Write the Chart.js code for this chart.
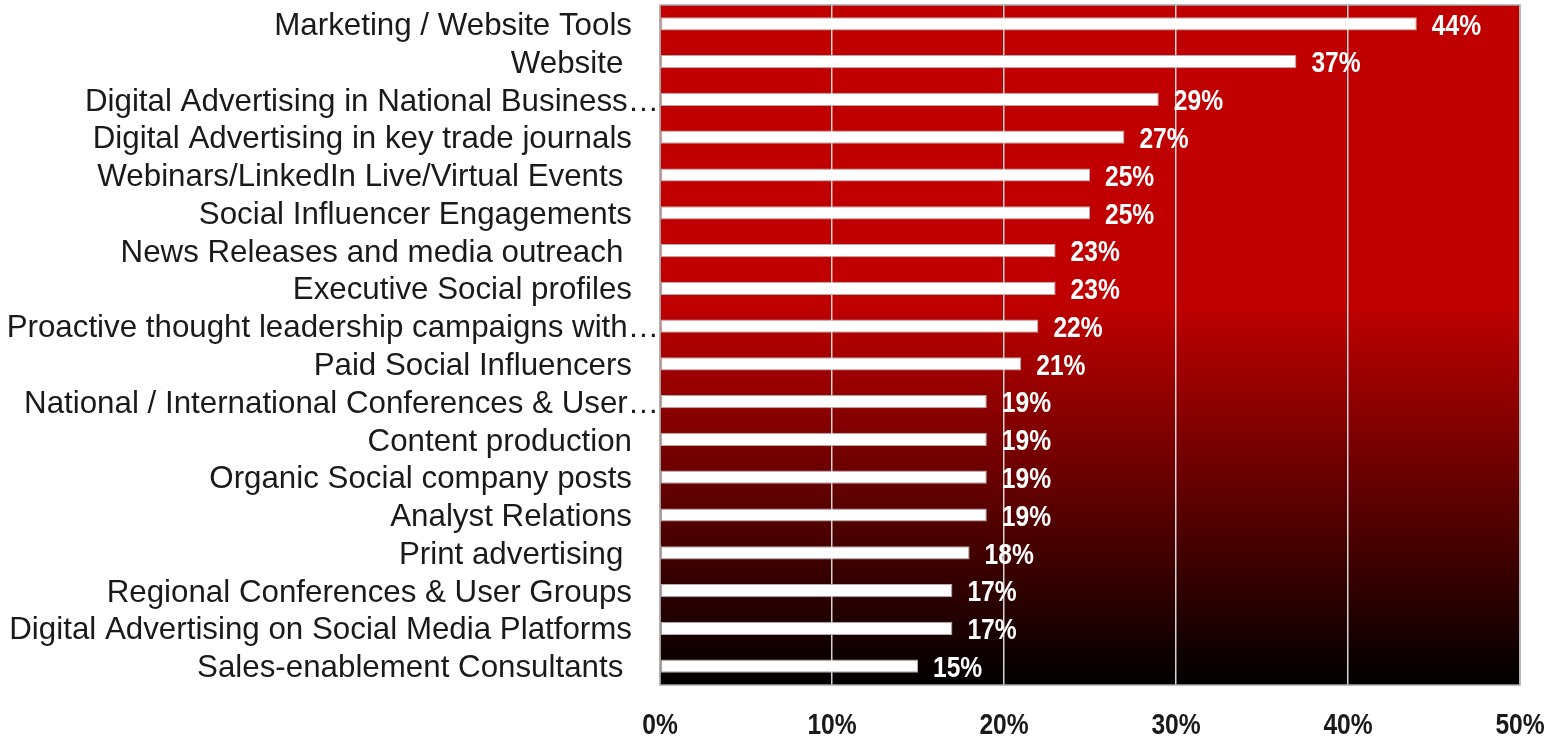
<!DOCTYPE html>
<html>
<head>
<meta charset="utf-8">
<script src="https://cdn.jsdelivr.net/npm/chart.js@4.4.1/dist/chart.umd.min.js"></script>
<style>
  html, body { margin: 0; padding: 0; background: #ffffff; }
  #wrap { width: 1559px; height: 738px; position: relative; }
</style>
</head>
<body>
<div id="wrap"><canvas id="chart" width="1559" height="738"></canvas></div>
<script>
// Channels ranked by share of respondents
const categories = [
  "Marketing / Website Tools",
  "Website ",
  "Digital Advertising in National Business\u2026",
  "Digital Advertising in key trade journals",
  "Webinars/LinkedIn Live/Virtual Events ",
  "Social Influencer Engagements",
  "News Releases and media outreach ",
  "Executive Social profiles",
  "Proactive thought leadership campaigns with\u2026",
  "Paid Social Influencers",
  "National / International Conferences & User\u2026",
  "Content production",
  "Organic Social company posts",
  "Analyst Relations",
  "Print advertising ",
  "Regional Conferences & User Groups",
  "Digital Advertising on Social Media Platforms",
  "Sales-enablement Consultants "
];
const shares = [44, 37, 29, 27, 25, 25, 23, 23, 22, 21, 19, 19, 19, 19, 18, 17, 17, 15];
const xTicks = [0, 10, 20, 30, 40, 50];

const labelFont = "'Liberation Sans', Arial, sans-serif";
const NARROW = 0.82; // horizontal squeeze for the narrow bold numerals

// Draw text squeezed horizontally, anchored at (x, y) with the given alignment
function narrowText(ctx, text, x, y, align) {
  ctx.save();
  ctx.translate(x, y);
  ctx.scale(NARROW, 1);
  ctx.textAlign = align;
  ctx.fillText(text, 0, 0);
  ctx.restore();
}

// Red-to-black vertical wash behind the plot area, framed in grey
const plotBackground = {
  id: 'plotBackground',
  beforeDraw(chart) {
    const { ctx, chartArea: a } = chart;
    const g = ctx.createLinearGradient(0, a.top, 0, a.bottom);
    g.addColorStop(0, '#c00000');
    g.addColorStop(0.44, '#c00000');
    g.addColorStop(1, '#000000');
    ctx.save();
    ctx.fillStyle = g;
    ctx.fillRect(a.left, a.top, a.right - a.left, a.bottom - a.top);
    ctx.restore();
  },
  afterDatasetsDraw(chart) {
    const { ctx, chartArea: a } = chart;
    ctx.save();
    ctx.strokeStyle = '#a8a8a8';
    ctx.lineWidth = 1.5;
    ctx.strokeRect(a.left, a.top, a.right - a.left, a.bottom - a.top);
    ctx.restore();
  }
};

// Category names to the left of the plot, right-aligned
const categoryLabels = {
  id: 'categoryLabels',
  afterDraw(chart) {
    const { ctx, chartArea: a } = chart;
    const y = chart.scales.y;
    ctx.save();
    ctx.font = "31.3px " + labelFont;
    ctx.fillStyle = '#1a1a1a';
    ctx.textAlign = 'right';
    ctx.textBaseline = 'middle';
    categories.forEach((c, i) => {
      const truncated = c.endsWith('\u2026');
      ctx.fillText(c, truncated ? a.left - 1 : a.left - 28, y.getPixelForValue(i) + 2.5);
    });
    ctx.restore();
  }
};

// Percent tick labels under the plot
const percentTicks = {
  id: 'percentTicks',
  afterDraw(chart) {
    const { ctx, chartArea: a } = chart;
    const x = chart.scales.x;
    ctx.save();
    ctx.font = "bold 30px " + labelFont;
    ctx.fillStyle = '#1a1a1a';
    ctx.textBaseline = 'middle';
    xTicks.forEach(v => narrowText(ctx, v + '%', x.getPixelForValue(v), a.bottom + 41, 'center'));
    ctx.restore();
  }
};

// Percent values just past the end of each bar
const valueLabels = {
  id: 'valueLabels',
  afterDatasetsDraw(chart) {
    const { ctx } = chart;
    const meta = chart.getDatasetMeta(0);
    ctx.save();
    ctx.font = "bold 30px " + labelFont;
    ctx.fillStyle = '#ffffff';
    ctx.textBaseline = 'middle';
    meta.data.forEach((bar, i) => {
      narrowText(ctx, shares[i] + '%', bar.x + 15, bar.y + 2.5, 'left');
    });
    ctx.restore();
  }
};

new Chart(document.getElementById('chart'), {
  type: 'bar',
  data: {
    labels: categories,
    datasets: [{
      data: shares,
      backgroundColor: '#ffffff',
      borderColor: '#b9a8a8',
      borderWidth: 1,
      borderSkipped: false,
      barPercentage: 0.35,
      categoryPercentage: 1
    }]
  },
  options: {
    indexAxis: 'y',
    responsive: false,
    animation: false,
    layout: { padding: { left: 0, right: 39, top: 5, bottom: 0 } },
    plugins: {
      legend: { display: false },
      tooltip: { enabled: false }
    },
    scales: {
      x: {
        min: 0,
        max: 50,
        afterBuildTicks(scale) { scale.ticks = xTicks.map(v => ({ value: v })); },
        afterFit(scale) { scale.height = 53; },
        grid: { color: '#d4d4d4', lineWidth: 1.5, drawTicks: false },
        border: { display: false },
        ticks: { display: false }
      },
      y: {
        afterFit(scale) { scale.width = 660; },
        grid: { display: false, drawTicks: false },
        border: { display: false },
        ticks: { display: false }
      }
    }
  },
  plugins: [plotBackground, categoryLabels, percentTicks, valueLabels]
});
</script>
</body>
</html>
